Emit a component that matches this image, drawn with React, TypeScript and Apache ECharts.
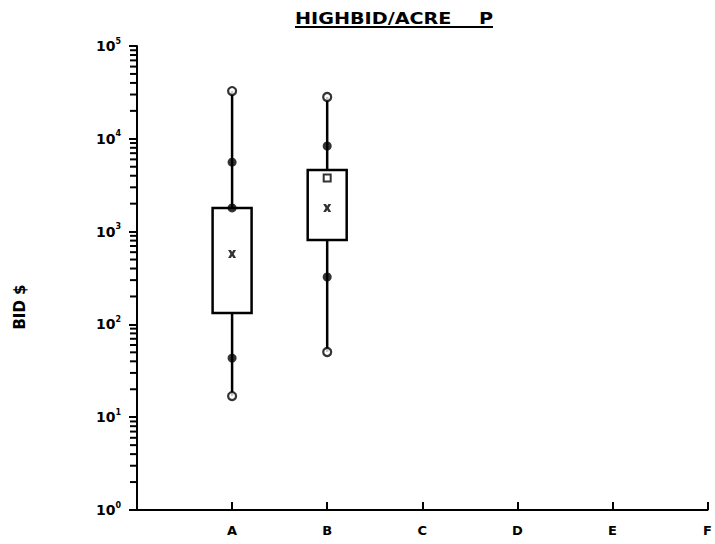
import React, { useEffect, useRef } from "react";
import * as echarts from "echarts";

const categories = ["A", "B", "C", "D", "E", "F"];
const boxPositions = [1, 2];
const whiskerLow = [16.9, 50.4];
const boxLow = [133, 811];
const boxHigh = [1800, 4610];
const whiskerHigh = [32700, 28200];
const medians = [574, 1796];
const filledA = [43.4, 1800, 5600];
const filledB = [324, 8360];
const meanB = [3780];
const decades = [1, 10, 100, 1000, 10000];
const minorMultipliers = [2, 3, 4, 5, 6, 7, 8, 9];

const FONT = "DejaVu Sans";

export default function App() {
  const ref = useRef<HTMLDivElement>(null);
  useEffect(() => {
    if (!ref.current) return;
    const chart = echarts.init(ref.current, undefined, { renderer: "svg" });

    const boxData = boxPositions.map((p, i) => [p, whiskerLow[i], boxLow[i], boxHigh[i], whiskerHigh[i]]);
    const minorValues: number[] = [];
    decades.forEach((d) => minorMultipliers.forEach((m) => minorValues.push(d * m)));
    const openData = boxPositions.flatMap((p, i) => [[p, whiskerLow[i]], [p, whiskerHigh[i]]]);
    const filledData = [...filledA.map((v) => [boxPositions[0], v]), ...filledB.map((v) => [boxPositions[1], v])];
    const medianData = boxPositions.map((p, i) => [p, medians[i]]);
    const meanData = meanB.map((v) => [boxPositions[1], v]);

    const xMark = "path://M0,0L3.5,0L5,2.5L6.5,0L10,0L7,5L10,10L6.5,10L5,7.5L3.5,10L0,10L3,5Z";

    chart.setOption({
      animation: false,
      backgroundColor: "#ffffff",
      grid: { left: 137, right: 3, top: 46, bottom: 34 },
      xAxis: {
        type: "value",
        min: 0,
        max: 6,
        interval: 1,
        splitLine: { show: false },
        axisLine: { show: true, lineStyle: { color: "#000", width: 2 } },
        axisTick: { show: true, inside: true, length: 8, lineStyle: { color: "#000", width: 2 } },
        axisLabel: {
          margin: 14,
          color: "#000",
          fontFamily: FONT,
          fontWeight: "bold",
          fontSize: 13,
          formatter: (v: number) => (v === 0 ? "" : categories[v - 1] || ""),
        },
      },
      yAxis: {
        type: "log",
        logBase: 10,
        min: 1,
        max: 100000,
        splitLine: { show: false },
        axisLine: { show: true, lineStyle: { color: "#000", width: 2 } },
        axisTick: { show: true, inside: false, length: 8, lineStyle: { color: "#000", width: 2 } },
        axisLabel: {
          margin: 16,
          color: "#000",
          formatter: (v: number) => "{b|10}{s|" + Math.round(Math.log10(v)) + "}",
          rich: {
            b: { fontFamily: FONT, fontWeight: "bold", fontSize: 14, lineHeight: 18, color: "#000" },
            s: { fontFamily: FONT, fontWeight: "bold", fontSize: 8, verticalAlign: "top", lineHeight: 18, color: "#000" },
          },
        },
      },
      series: [
        {
          type: "custom",
          name: "boxes",
          data: boxData,
          renderItem: (params: any, api: any) => {
            const x = api.value(0);
            const pLow = api.coord([x, api.value(1)]);
            const pQ1 = api.coord([x, api.value(2)]);
            const pQ3 = api.coord([x, api.value(3)]);
            const pHigh = api.coord([x, api.value(4)]);
            const half = api.size([0.41, 0])[0] / 2;
            return {
              type: "group",
              children: [
                {
                  type: "line",
                  shape: { x1: pLow[0], y1: pLow[1], x2: pHigh[0], y2: pHigh[1] },
                  style: { stroke: "#000", lineWidth: 2.5 },
                },
                {
                  type: "rect",
                  shape: { x: pQ3[0] - half, y: pQ3[1], width: half * 2, height: pQ1[1] - pQ3[1] },
                  style: { fill: "#fff", stroke: "#000", lineWidth: 2.5 },
                },
              ],
            };
          },
          z: 4,
        },
        {
          type: "scatter",
          name: "filled",
          data: filledData,
          symbol: "circle",
          symbolSize: 9,
          itemStyle: { color: "#000" },
          z: 6,
        },
        {
          type: "scatter",
          name: "extremes",
          data: openData,
          symbol: "circle",
          symbolSize: 8,
          itemStyle: { color: "#fff", borderColor: "#000", borderWidth: 2.2 },
          z: 6,
        },
        {
          type: "scatter",
          name: "median",
          data: medianData,
          symbol: xMark,
          symbolSize: 8,
          itemStyle: { color: "#000" },
          z: 6,
        },
        {
          type: "scatter",
          name: "mean",
          data: meanData,
          symbol: "rect",
          symbolSize: 7,
          itemStyle: { color: "#fff", borderColor: "#000", borderWidth: 2 },
          z: 6,
        },
      ],
    });

    const minorTicks = minorValues.map((v) => {
      const p = chart.convertToPixel({ gridIndex: 0 }, [0, v]) as number[];
      return {
        type: "line",
        shape: { x1: p[0] - 7, y1: p[1], x2: p[0], y2: p[1] },
        style: { stroke: "#000", lineWidth: 2 },
      };
    });

    chart.setOption({
      graphic: [
        {
          type: "text",
          x: 295,
          y: 11,
          scaleX: 1.2,
          style: { text: "HIGHBID/ACRE", fontFamily: FONT, fontWeight: "bold", fontSize: 16, fill: "#000" },
        },
        {
          type: "text",
          x: 479,
          y: 11,
          scaleX: 1.2,
          style: { text: "P", fontFamily: FONT, fontWeight: "bold", fontSize: 16, fill: "#000" },
        },
        {
          type: "line",
          shape: { x1: 295, y1: 27, x2: 493, y2: 27 },
          style: { stroke: "#000", lineWidth: 2 },
        },
        {
          type: "text",
          x: 20,
          y: 307,
          rotation: Math.PI / 2,
          style: {
            text: "BID $",
            fontFamily: FONT,
            fontWeight: "bold",
            fontSize: 15,
            fill: "#000",
            align: "center",
            verticalAlign: "middle",
          },
        },
        ...minorTicks,
      ],
    });

    return () => chart.dispose();
  }, []);

  return (
    <div
      ref={ref}
      style={{ position: "absolute", left: 0, top: 0, width: 715, height: 544, background: "#fff" }}
    />
  );
}
